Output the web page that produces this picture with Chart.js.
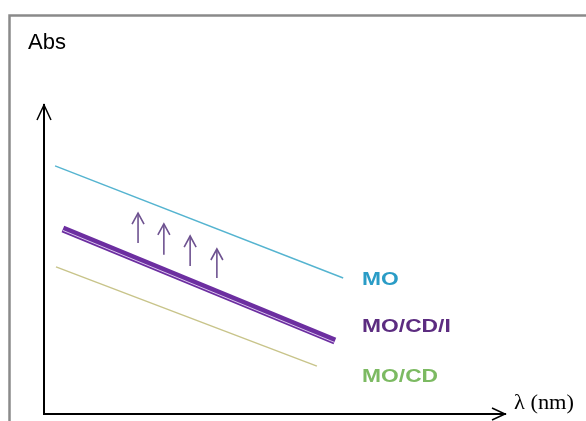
<!DOCTYPE html>
<html>
<head>
<meta charset="utf-8">
<style>
  html, body { margin: 0; padding: 0; background: #fff; overflow: hidden; }
  #wrap { width: 586px; height: 421px; }
</style>
</head>
<body>
<div id="wrap"><canvas id="abs"></canvas></div>
<script src="https://cdn.jsdelivr.net/npm/chart.js"></script>
<script>
  // schematic values (arbitrary units, 0-100 on both axes)
  const seriesNames = ["MO", "MO/CD/I", "MO/CD"];
  const moX = [2.4, 64.9];
  const moY = [80.3, 44.0];
  const moCdIX = [4.1, 63.1];
  const moCdIY = [59.9, 23.6];
  const moCdX = [2.6, 59.2];
  const moCdY = [47.6, 15.5];
  // the four little "increase" arrows
  const arrowX = [20.4, 26.0, 31.7, 37.5];
  const arrowFrom = [55.3, 51.5, 47.9, 44.0];
  const arrowTo = [65.0, 61.5, 57.6, 53.4];

  const pts = (xs, ys) => xs.map((x, i) => ({ x: x, y: ys[i] }));

  const lineSet = (data, color, width, order) => ({
    data: data, showLine: true, borderColor: color, borderWidth: width,
    pointRadius: 0, fill: false, order: order
  });

  const datasets = [
    lineSet(pts(moX, moY), "#55b4d0", 1.5, 3),
    lineSet(pts(moCdIX, moCdIY), "#6c2ea0", 7, 1),
    Object.assign(lineSet(pts(moCdIX, moCdIY), "rgba(236,222,250,0.85)", 1, 0), { shiftY: 1.5 }),
    lineSet(pts(moCdX, moCdY), "#c8c48a", 1.5, 3)
  ];
  arrowX.forEach((x, i) => {
    datasets.push(Object.assign(
      lineSet([{ x: x, y: arrowFrom[i] }, { x: x, y: arrowTo[i] }], "#6e5290", 1.6, 2),
      { arrowHead: true }
    ));
  });

  // label look, kept apart from the data
  const labelStyle = [
    { color: "#2a9cc6", y: 43.4 },
    { color: "#5c2c80", y: 28.2 },
    { color: "#7cba62", y: 12.0 }
  ];
  const labelX = 69.0;

  function chevron(ctx, x, y, dx, dy, half, len) {
    // tip at (x,y), pointing along (dx,dy)
    const nx = -dy, ny = dx;
    ctx.beginPath();
    ctx.moveTo(x - dx * len + nx * half, y - dy * len + ny * half);
    ctx.lineTo(x, y);
    ctx.lineTo(x - dx * len - nx * half, y - dy * len - ny * half);
    ctx.stroke();
  }

  const decor = {
    id: "decor",
    beforeDraw(chart) {
      const ctx = chart.ctx;
      ctx.save();
      ctx.strokeStyle = "#8a8a8a";
      ctx.lineWidth = 2.5;
      ctx.strokeRect(9.5, 15.5, 700, 600);
      ctx.restore();
    },
    beforeDatasetDraw(chart, args) {
      const ds = chart.data.datasets[args.index];
      if (ds.shiftY) { chart.ctx.save(); chart.ctx.translate(0, ds.shiftY); }
    },
    afterDatasetDraw(chart, args) {
      const ds = chart.data.datasets[args.index];
      const ctx = chart.ctx;
      if (ds.shiftY) ctx.restore();
      if (ds.arrowHead) {
        const tip = args.meta.data[1];
        ctx.save();
        ctx.strokeStyle = ds.borderColor;
        ctx.lineWidth = 1.6;
        chevron(ctx, tip.x, tip.y, 0, -1, 6, 11);
        ctx.restore();
      }
    },
    afterDraw(chart) {
      const ctx = chart.ctx;
      const a = chart.chartArea;
      const xs = chart.scales.x, ys = chart.scales.y;
      ctx.save();
      ctx.strokeStyle = "#000";
      ctx.lineWidth = 1.5;
      chevron(ctx, a.left, a.top, 0, -1, 7, 15);
      chevron(ctx, a.right, a.bottom, 1, 0, 6, 13);

      ctx.fillStyle = "#000";
      ctx.font = "22px 'Liberation Sans', Arial, sans-serif";
      ctx.textBaseline = "middle";
      ctx.fillText("Abs", 28, 43);

      ctx.font = "20px 'Liberation Serif', 'Times New Roman', serif";
      ctx.textBaseline = "alphabetic";
      ctx.save();
      ctx.translate(a.right + 9, a.bottom - 5);
      ctx.scale(1.12, 1);
      ctx.fillText("\u03bb (nm)", 0, 0);
      ctx.restore();

      ctx.font = "bold 19px 'Liberation Sans', Arial, sans-serif";
      ctx.textBaseline = "middle";
      seriesNames.forEach((name, i) => {
        ctx.save();
        ctx.fillStyle = labelStyle[i].color;
        ctx.translate(xs.getPixelForValue(labelX), ys.getPixelForValue(labelStyle[i].y));
        ctx.scale(1.2, 1);
        ctx.fillText(name, 0, 0);
        ctx.restore();
      });
      ctx.restore();
    }
  };

  new Chart(document.getElementById("abs"), {
    type: "scatter",
    data: { datasets: datasets },
    options: {
      responsive: true,
      maintainAspectRatio: false,
      animation: false,
      layout: { padding: { left: 44, right: 81, top: 105, bottom: 7 } },
      plugins: { legend: { display: false }, tooltip: { enabled: false } },
      scales: {
        x: {
          type: "linear", min: 0, max: 100,
          ticks: { display: false },
          grid: { display: false, drawTicks: false },
          border: { display: true, color: "#000", width: 2 }
        },
        y: {
          type: "linear", min: 0, max: 100,
          ticks: { display: false },
          grid: { display: false, drawTicks: false },
          border: { display: true, color: "#000", width: 2 }
        }
      }
    },
    plugins: [decor]
  });
</script>
</body>
</html>
